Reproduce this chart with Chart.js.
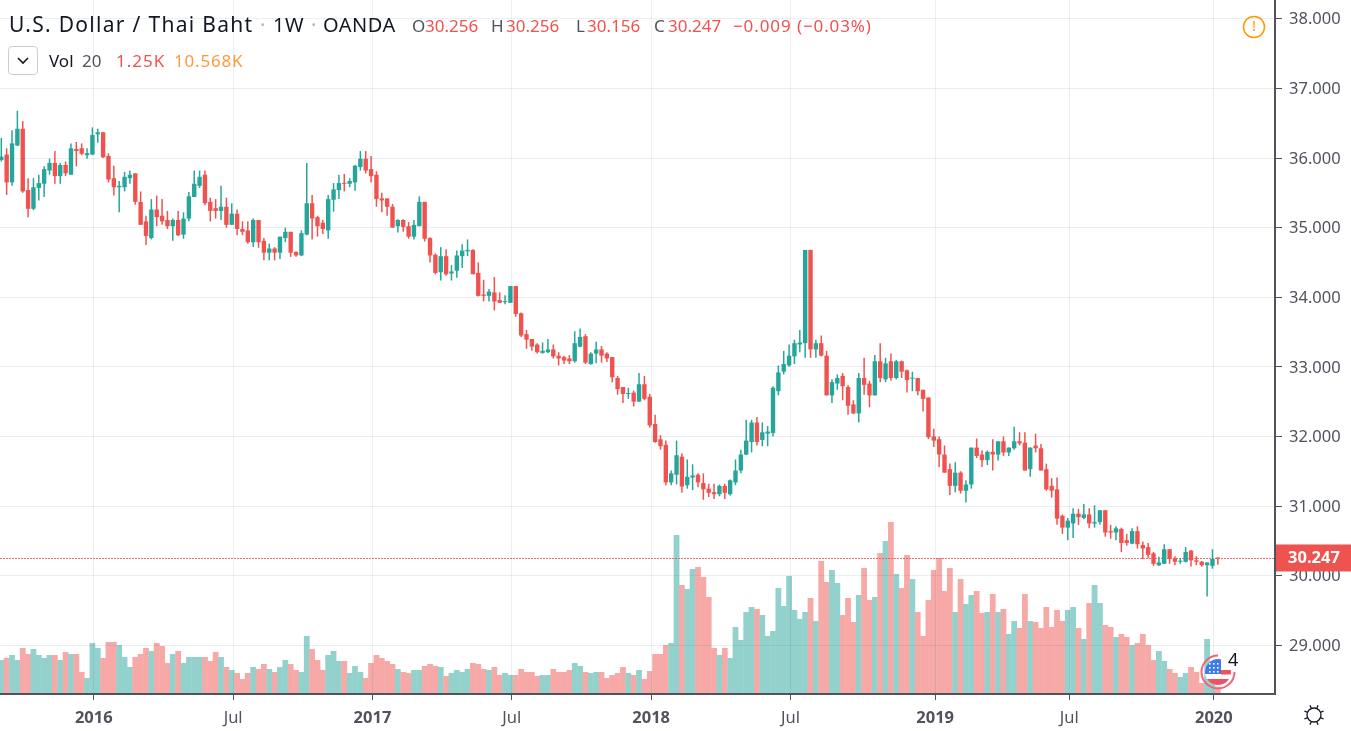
<!DOCTYPE html>
<html>
<head>
<meta charset="utf-8">
<title>USD/THB 1W</title>
<script src="https://cdn.jsdelivr.net/npm/chart.js@4/dist/chart.umd.min.js"></script>
<style>
    html, body { margin: 0; padding: 0; background: #fff; }
    #wrap { position: relative; width: 1351px; height: 731px; overflow: hidden; font-family: 'Noto Sans', sans-serif; }
    #chart { position: absolute; left: 0; top: 0; }
    .t { position: absolute; white-space: pre; line-height: 1; }
    .row1 { top: 15px; font-size: 20px; color: #131722; letter-spacing: 0.55px; }
    .val { top: 17px; font-size: 17px; color: #ef5350; }
    .lab { top: 17px; font-size: 17px; color: #50535e; }
    .row2 { top: 52px; font-size: 17px; }
    #toggle { position: absolute; left: 8px; top: 46px; width: 28px; height: 27px; border: 1px solid #c9cdd6; border-radius: 4px; background: #fff; }
</style>
</head>
<body>
<div id="wrap">
    <canvas id="chart" width="1351" height="731"></canvas>
    <span class="t row1" style="left:9px;font-size:21px;letter-spacing:1.3px;top:14px">U.S. Dollar / Thai Baht</span>
    <span class="t row1" style="left:260px;color:#b2b5be">·</span>
    <span class="t row1" style="left:273px">1W</span>
    <span class="t row1" style="left:311px;color:#b2b5be">·</span>
    <span class="t row1" style="left:323px">OANDA</span>
    <span class="t lab" style="left:412px">O</span><span class="t val" style="left:425px">30.256</span>
    <span class="t lab" style="left:491px">H</span><span class="t val" style="left:506px">30.256</span>
    <span class="t lab" style="left:576px">L</span><span class="t val" style="left:587px">30.156</span>
    <span class="t lab" style="left:654px">C</span><span class="t val" style="left:668px">30.247</span>
    <span class="t val" style="left:733px;letter-spacing:0.9px">−0.009 (−0.03%)</span>
    <div id="toggle"><svg width="28" height="27"><path d="M9 11 L14 16 L19 11" fill="none" stroke="#131722" stroke-width="1.6"/></svg></div>
    <span class="t row2" style="left:49px;color:#131722">Vol</span>
    <span class="t row2" style="left:82px;color:#50535e">20</span>
    <span class="t row2" style="left:116px;color:#ef5350;letter-spacing:1px">1.25K</span>
    <span class="t row2" style="left:174px;color:#ff9a3c;letter-spacing:0.8px">10.568K</span>
</div>
<script>
const opens = [
    35.97,36.05,35.65,36.18,36.42,35.54,35.27,35.57,35.63,35.82,
    35.93,35.74,35.90,35.76,36.13,36.14,36.04,36.05,36.34,36.37,
    36.03,35.71,35.58,35.58,35.71,35.78,35.37,35.09,34.85,35.26,
    35.17,35.11,35.02,35.11,34.90,35.13,35.44,35.60,35.76,35.37,
    35.28,35.24,35.30,35.04,35.20,34.98,34.96,34.79,35.11,34.81,
    34.64,34.70,34.64,34.85,34.94,34.65,34.60,34.90,35.35,35.15,
    35.07,34.96,35.40,35.54,35.64,35.63,35.65,35.87,35.99,35.84,
    35.76,35.42,35.42,35.30,35.02,35.11,35.02,34.87,35.02,35.37,
    34.85,34.61,34.36,34.59,34.34,34.38,34.59,34.66,34.68,34.35,
    34.04,34.02,34.07,33.96,33.93,33.92,34.16,33.77,33.47,33.40,
    33.32,33.20,33.21,33.25,33.16,33.14,33.12,33.08,33.29,33.44,
    33.04,33.19,33.25,33.19,33.14,32.84,32.71,32.61,32.63,32.50,
    32.75,32.57,32.18,31.96,31.88,31.34,31.45,31.71,31.30,31.41,
    31.45,31.33,31.25,31.20,31.17,31.29,31.17,31.34,31.51,31.74,
    31.92,32.20,31.95,32.04,32.05,32.65,32.93,33.02,33.15,33.32,
    33.34,34.68,33.25,33.34,33.16,32.59,32.76,32.87,32.71,32.46,
    32.33,32.84,32.76,32.59,33.08,32.82,33.08,32.84,33.08,32.95,
    32.83,32.84,32.67,32.56,32.00,31.96,31.74,31.53,31.29,31.48,
    31.22,31.31,31.84,31.74,31.66,31.78,31.74,31.93,31.77,31.83,
    31.93,31.91,31.53,31.87,31.83,31.53,31.29,31.24,30.86,30.69,
    30.75,30.89,30.83,30.88,30.75,30.77,30.94,30.64,30.62,30.67,
    30.51,30.46,30.64,30.44,30.41,30.32,30.15,30.17,30.38,30.25,
    30.20,30.20,30.36,30.22,30.20,30.15,30.14,30.256
];
const highs = [
    36.29,36.14,36.40,36.68,36.53,35.71,35.71,35.76,35.88,35.99,
    36.10,35.93,35.95,36.21,36.23,36.21,36.14,36.44,36.42,36.37,
    36.07,35.89,35.67,35.80,35.82,35.78,35.52,35.17,35.41,35.46,
    35.41,35.24,35.13,35.24,35.22,35.51,35.82,35.82,35.82,35.43,
    35.41,35.60,35.43,35.35,35.26,35.09,35.09,35.13,35.11,34.85,
    34.77,34.72,34.87,35.00,34.94,34.66,34.96,35.93,35.47,35.17,
    35.11,35.47,35.64,35.76,35.77,35.71,35.90,36.10,36.10,36.03,
    35.81,35.50,35.42,35.34,35.12,35.12,35.08,35.11,35.45,35.37,
    34.86,34.63,34.72,34.69,34.46,34.67,34.76,34.83,34.69,34.50,
    34.25,34.12,34.29,34.07,34.03,34.16,34.16,33.78,33.53,33.40,
    33.34,33.35,33.40,33.32,33.21,33.16,33.17,33.51,33.55,33.47,
    33.21,33.36,33.30,33.21,33.14,32.87,32.71,32.70,32.66,32.91,
    32.87,32.61,32.31,32.02,31.94,31.51,31.94,31.76,31.67,31.60,
    31.47,31.47,31.32,31.32,31.31,31.32,31.38,31.67,31.81,32.24,
    32.24,32.28,32.20,32.15,32.72,33.02,33.23,33.32,33.39,33.53,
    34.68,34.68,33.39,33.45,33.23,32.82,32.89,32.91,32.74,32.52,
    32.91,33.13,32.80,33.17,33.34,33.13,33.19,33.10,33.09,32.96,
    32.93,32.84,32.67,32.56,32.11,32.00,31.87,31.61,31.63,31.50,
    31.37,31.84,31.97,31.80,31.80,31.96,31.93,32.00,31.84,32.14,
    32.06,32.06,31.84,32.04,31.89,31.61,31.40,31.41,30.88,30.83,
    30.97,30.96,31.03,30.97,31.01,30.94,30.94,30.73,30.71,30.69,
    30.60,30.68,30.71,30.49,30.47,30.34,30.27,30.45,30.38,30.28,
    30.25,30.41,30.37,30.28,30.21,30.19,30.38,30.256
];
const lows = [
    35.95,35.47,35.60,36.17,35.50,35.15,35.25,35.39,35.44,35.76,
    35.63,35.63,35.74,35.76,35.88,36.04,35.99,36.04,36.22,36.00,
    35.65,35.46,35.22,35.52,35.63,35.33,35.04,34.75,34.83,35.02,
    35.04,34.98,34.81,34.88,34.84,35.09,35.44,35.57,35.32,35.09,
    35.13,35.11,35.00,35.04,34.89,34.89,34.77,34.72,34.71,34.53,
    34.53,34.53,34.55,34.79,34.58,34.58,34.59,34.89,34.83,34.87,
    34.91,34.84,35.23,35.41,35.52,35.58,35.53,35.82,35.78,35.65,
    35.30,35.22,35.17,35.00,34.93,34.94,34.84,34.83,35.02,34.80,
    34.50,34.33,34.24,34.31,34.24,34.28,34.42,34.59,34.33,34.01,
    33.94,33.94,33.81,33.92,33.90,33.92,33.72,33.43,33.26,33.23,
    33.19,33.19,33.20,33.12,33.02,33.04,33.04,33.06,33.28,33.04,
    33.03,33.05,33.06,33.07,32.78,32.60,32.48,32.54,32.43,32.50,
    32.52,32.13,31.91,31.81,31.30,31.30,31.31,31.19,31.25,31.23,
    31.27,31.09,31.13,31.10,31.14,31.10,31.15,31.30,31.47,31.73,
    31.77,31.87,31.86,31.86,32.00,32.59,32.89,33.00,33.04,33.21,
    33.13,33.13,33.13,33.15,32.59,32.48,32.67,32.52,32.31,32.32,
    32.20,32.60,32.42,32.59,32.78,32.78,32.80,32.82,32.84,32.63,
    32.65,32.59,32.36,31.96,31.85,31.56,31.48,31.16,31.20,31.18,
    31.05,31.25,31.69,31.56,31.59,31.51,31.65,31.72,31.72,31.81,
    31.87,31.51,31.42,31.77,31.51,31.22,31.12,30.73,30.60,30.51,
    30.54,30.73,30.81,30.68,30.69,30.73,30.56,30.53,30.51,30.34,
    30.43,30.45,30.39,30.24,30.25,30.14,30.14,30.17,30.17,30.15,
    30.17,30.19,30.13,30.15,30.13,29.70,30.10,30.156
];
const closes = [
    36.02,35.65,36.21,36.42,35.52,35.27,35.58,35.64,35.84,35.93,
    35.74,35.90,35.78,36.14,36.10,36.06,36.07,36.33,36.37,36.01,
    35.69,35.58,35.60,35.73,35.76,35.37,35.04,34.88,35.26,35.15,
    35.09,35.02,35.11,34.89,35.13,35.45,35.63,35.73,35.35,35.24,
    35.24,35.30,35.04,35.20,34.98,34.94,34.79,35.11,34.79,34.64,
    34.70,34.64,34.87,34.94,34.64,34.60,34.92,35.35,35.13,35.02,
    34.98,35.41,35.55,35.64,35.63,35.67,35.89,35.99,35.82,35.74,
    35.41,35.39,35.30,35.00,35.11,35.01,34.87,35.04,35.37,34.84,
    34.60,34.35,34.59,34.33,34.37,34.60,34.67,34.68,34.33,34.02,
    34.02,34.08,33.94,33.92,33.94,34.16,33.76,33.45,33.39,33.29,
    33.21,33.23,33.25,33.15,33.12,33.09,33.08,33.34,33.43,33.06,
    33.19,33.25,33.16,33.12,32.85,32.68,32.61,32.62,32.50,32.75,
    32.54,32.16,31.92,31.86,31.34,31.47,31.73,31.28,31.42,31.44,
    31.34,31.24,31.19,31.17,31.29,31.19,31.37,31.51,31.74,31.94,
    32.20,31.92,32.06,32.07,32.70,32.92,33.04,33.16,33.34,33.35,
    34.68,33.25,33.34,33.16,32.59,32.78,32.84,32.72,32.44,32.33,
    32.84,32.74,32.59,33.08,32.84,33.05,32.84,33.08,32.93,32.81,
    32.84,32.65,32.54,31.99,31.94,31.74,31.48,31.29,31.48,31.22,
    31.31,31.84,31.72,31.66,31.78,31.74,31.93,31.77,31.84,31.93,
    31.90,31.51,31.84,31.83,31.51,31.24,31.22,30.82,30.69,30.79,
    30.89,30.84,30.88,30.75,30.77,30.94,30.62,30.62,30.68,30.47,
    30.47,30.64,30.45,30.39,30.30,30.17,30.19,30.38,30.24,30.20,
    30.21,30.34,30.22,30.20,30.15,30.19,30.24,30.247
];
// volume in thousands
const volumes = [
    6.6,7.0,7.6,6.6,9.0,7.8,8.8,7.6,7.0,7.6,
    7.6,6.6,8.2,7.8,7.8,4.2,3.0,10.0,9.0,7.0,
    10.2,10.2,9.6,7.2,5.2,7.2,7.8,9.0,8.4,10.0,
    9.4,6.0,7.8,8.4,6.0,7.2,7.2,7.2,7.2,6.4,
    8.2,7.2,5.2,4.6,4.0,2.8,4.0,5.2,4.8,5.8,
    4.8,4.2,5.2,6.6,5.8,4.6,4.2,11.4,8.8,6.6,
    4.6,7.6,8.4,6.4,6.4,4.0,5.4,4.2,3.0,6.0,
    7.6,7.0,6.4,5.8,4.8,4.2,4.0,4.6,4.6,5.4,
    5.8,5.4,5.2,3.4,4.0,4.6,4.2,4.8,6.0,5.8,
    4.8,4.6,5.2,3.6,4.0,3.6,3.6,4.8,4.2,4.2,
    3.4,3.6,3.6,4.8,4.2,4.2,4.6,6.0,5.4,4.2,
    4.0,4.2,4.2,3.0,3.6,4.0,5.2,4.0,3.6,4.6,
    2.8,4.4,7.8,7.8,9.6,10.0,31.6,21.6,20.8,24.8,
    25.2,23.2,19.2,9.0,7.6,9.0,7.0,13.2,10.6,16.2,
    17.2,16.8,15.6,11.4,12.4,21.0,17.4,23.4,16.6,14.8,
    16.2,19.0,14.4,26.4,22.2,24.6,22.0,15.6,19.0,14.2,
    19.6,25.0,18.6,19.2,28.0,30.4,34.2,23.8,21.0,27.6,
    22.8,16.2,11.4,18.6,24.6,27.0,20.4,25.0,16.2,22.8,
    17.8,19.6,20.4,16.0,16.2,19.8,16.2,16.8,11.8,14.4,
    13.0,19.8,14.4,14.2,13.0,17.2,13.2,16.6,14.4,16.6,
    17.2,13.0,10.8,18.0,21.6,18.0,13.6,13.2,11.2,11.8,
    11.2,9.6,10.0,11.8,9.6,6.6,8.4,6.4,4.8,4.0,
    3.2,4.0,5.2,4.2,2.0,10.8,3.6,1.25
];
const xTickWeeks = [17, 43, 69, 95, 121, 147, 174, 199, 226];
const xTickLabels = ['2016', 'Jul', '2017', 'Jul', '2018', 'Jul', '2019', 'Jul', '2020'];
const priceTicks = [29, 30, 31, 32, 33, 34, 35, 36, 37, 38];
const lastPrice = 30.247;

const UP = '#26a69a';
const DOWN = '#ef5350';
const AXIS = '#50535e';
const GRID = 'rgba(40,100,140,0.1)';
const FONT = "'Noto Sans', sans-serif";

const isUp = i => closes[i] >= opens[i];
const candleColor = opens.map((o, i) => isUp(i) ? UP : DOWN);
// flat tints, translucent bars leave seams where they touch
const volumeColor = opens.map((o, i) => isUp(i) ? '#93d2cc' : '#f7a9a7');

// gridlines sit a quarter of a bar right of the candle they belong to
const GRID_SHIFT = 0.26;
const xMin = -0.2426;
const xMax = 237.67;

function drawFlag(ctx, cx, cy) {
    ctx.save();
    ctx.strokeStyle = '#f5607a';
    ctx.lineWidth = 2;
    ctx.beginPath();
    ctx.arc(cx, cy, 16.5, 0, Math.PI * 1.5);
    ctx.stroke();
    ctx.beginPath();
    ctx.arc(cx, cy, 13, 0, Math.PI * 2);
    ctx.fillStyle = '#fff';
    ctx.fill();
    ctx.clip();
    ctx.fillStyle = '#ef5360';
    ctx.fillRect(cx - 13, cy + 7, 26, 7);
    ctx.fillRect(cx + 3, cy - 2, 10, 4.5);
    ctx.fillStyle = '#3f7be0';
    ctx.fillRect(cx - 13, cy - 13, 16, 15);
    ctx.fillStyle = '#fff';
    for (let r = 0; r < 3; r++) {
        for (let c = 0; c < 3; c++) {
            ctx.fillRect(cx - 9 + c * 4, cy - 9 + r * 4, 1.6, 1.6);
        }
    }
    ctx.restore();
    ctx.fillStyle = '#131722';
    ctx.font = '18px ' + FONT;
    ctx.textAlign = 'left';
    ctx.textBaseline = 'middle';
    ctx.fillText('4', cx + 10, cy - 11);
}

function drawSun(ctx, cx, cy) {
    ctx.save();
    ctx.strokeStyle = '#131722';
    ctx.lineWidth = 1.3;
    ctx.beginPath();
    ctx.arc(cx, cy, 7, 0, Math.PI * 2);
    ctx.stroke();
    for (let k = 0; k < 8; k++) {
        const a = k * Math.PI / 4 + Math.PI / 8;
        ctx.beginPath();
        ctx.moveTo(cx + Math.cos(a) * 7.5, cy + Math.sin(a) * 7.5);
        ctx.lineTo(cx + Math.cos(a) * 10.5, cy + Math.sin(a) * 10.5);
        ctx.stroke();
    }
    ctx.restore();
}

const overlayPlugin = {
    id: 'overlay',
    afterDraw(chart) {
        const ctx = chart.ctx;
        const y = chart.scales.y.getPixelForValue(lastPrice);

        // last price tag on the axis
        ctx.save();
        ctx.fillStyle = DOWN;
        ctx.fillRect(1276, y - 14, 75, 27);
        ctx.fillStyle = '#fff';
        ctx.font = 'bold 16.5px ' + FONT;
        ctx.textAlign = 'left';
        ctx.textBaseline = 'middle';
        ctx.fillText(lastPrice.toFixed(3), 1288, y);

        // warning mark, top right
        ctx.strokeStyle = '#ff9800';
        ctx.lineWidth = 1.5;
        ctx.beginPath();
        ctx.arc(1254, 27, 10.5, 0, Math.PI * 2);
        ctx.stroke();
        ctx.fillStyle = '#ff9800';
        ctx.font = '15px ' + FONT;
        ctx.textAlign = 'center';
        ctx.fillText('!', 1254, 27);
        ctx.restore();

        drawFlag(ctx, 1218, 672);
        drawSun(ctx, 1314, 715);
    }
};

new Chart(document.getElementById('chart'), {
    data: {
        datasets: [
            {
                type: 'bar',
                yAxisID: 'y',
                grouped: false,
                order: 1,
                barThickness: 4.4,
                minBarLength: 1,
                inflateAmount: 0,
                backgroundColor: candleColor,
                data: opens.map((o, i) => ({ x: i, y: [Math.min(o, closes[i]), Math.max(o, closes[i])] }))
            },
            {
                type: 'bar',
                yAxisID: 'y',
                grouped: false,
                order: 2,
                barThickness: 1.5,
                inflateAmount: 0,
                backgroundColor: candleColor,
                data: lows.map((l, i) => ({ x: i, y: [l, highs[i]] }))
            },
            {
                type: 'line',
                yAxisID: 'y',
                order: 3,
                borderColor: 'rgba(239,83,80,0.85)',
                borderWidth: 1,
                borderDash: [2, 1],
                pointRadius: 0,
                data: [{ x: xMin, y: lastPrice }, { x: xMax, y: lastPrice }]
            },
            {
                type: 'bar',
                yAxisID: 'vol',
                grouped: false,
                order: 4,
                barThickness: 5.8,
                inflateAmount: 0,
                backgroundColor: volumeColor,
                data: volumes.map((v, i) => ({ x: i, y: v }))
            }
        ]
    },
    options: {
        responsive: false,
        animation: false,
        events: [],
        layout: { autoPadding: false, padding: 0 },
        plugins: {
            legend: { display: false },
            title: { display: false },
            tooltip: { enabled: false }
        },
        scales: {
            x: {
                type: 'linear',
                min: xMin,
                max: xMax,
                offset: false,
                afterFit(scale) {
                    scale.height = 37;
                    scale.paddingLeft = scale.paddingRight = 0;
                },
                afterBuildTicks(scale) {
                    scale.ticks = xTickWeeks.map(w => ({ value: w + GRID_SHIFT }));
                },
                grid: { color: GRID, tickColor: AXIS, tickLength: 6, offset: false, z: 1 },
                // same z as the grid, the border position is worked out while the grid draws
                border: { color: AXIS, width: 2, z: 1 },
                ticks: {
                    autoSkip: false,
                    maxRotation: 0,
                    padding: 8,
                    color: AXIS,
                    font: ctx => ({
                        family: FONT,
                        size: 16.5,
                        weight: ctx.index % 2 === 0 ? 'bold' : 'normal'
                    }),
                    callback: (value, index) => xTickLabels[index]
                }
            },
            y: {
                position: 'right',
                min: 28.30,
                max: 38.27,
                afterFit(scale) {
                    scale.width = 76;
                    scale.paddingTop = scale.paddingBottom = 0;
                },
                afterBuildTicks(scale) {
                    scale.ticks = priceTicks.map(v => ({ value: v }));
                },
                grid: { color: GRID, tickColor: AXIS, tickLength: 7, z: 1 },
                border: { color: AXIS, width: 2, z: 1 },
                ticks: {
                    padding: 7,
                    labelOffset: 1,
                    color: AXIS,
                    font: { family: FONT, size: 16.5 },
                    callback: value => value.toFixed(3)
                }
            },
            vol: {
                display: false,
                min: -0.2,
                max: 138.6
            }
        }
    },
    plugins: [overlayPlugin]
});
</script>
</body>
</html>
